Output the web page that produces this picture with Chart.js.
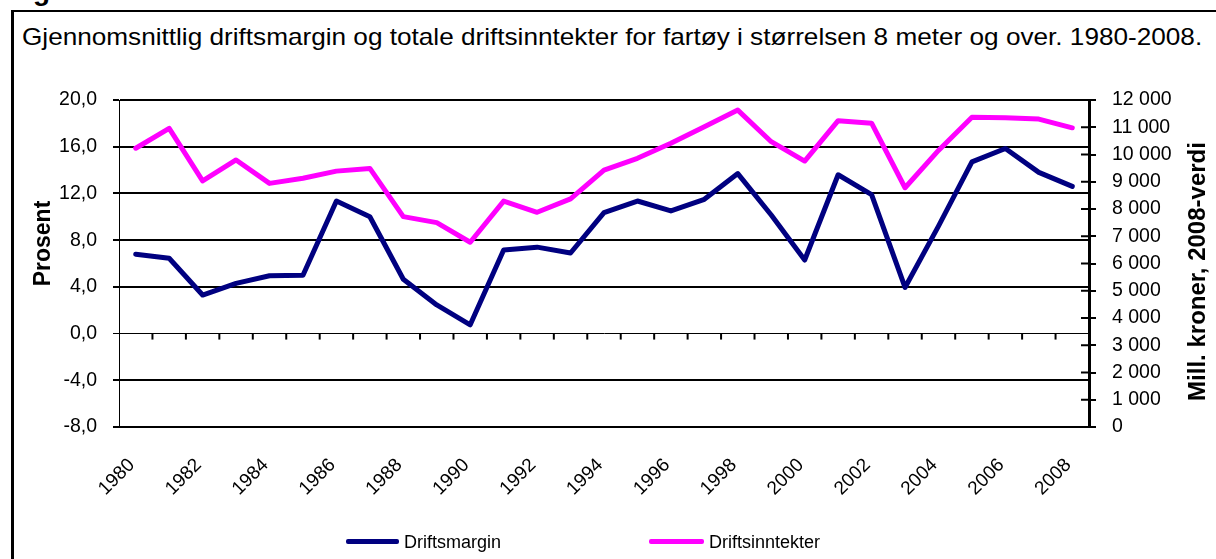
<!DOCTYPE html>
<html>
<head>
<meta charset="utf-8">
<title>Driftsmargin og driftsinntekter 1980-2008</title>
<script src="https://cdn.jsdelivr.net/npm/chart.js@4.4.1/dist/chart.umd.min.js"></script>
<style>
  html, body { margin: 0; padding: 0; background: #fff; }
  body { width: 1216px; height: 559px; overflow: hidden; position: relative;
         font-family: "Liberation Sans", Arial, sans-serif; color: #000; }
  #fig   { position: absolute; left: 8px; top: -23px; font: bold 28px/28px "Liberation Sans", Arial, sans-serif; }
  #frame { position: absolute; left: 11px; top: 10px; width: 1220px; height: 560px;
           border-left: 3px solid #000; border-top: 2px solid #000; }
  #title { position: absolute; left: 22px; top: 25px; font-size: 24px; line-height: 24px;
           white-space: nowrap; transform-origin: 0 0; }
  #chart { position: absolute; left: 0; top: 0; }
  .lg-line { position: absolute; height: 5px; border-radius: 2px; }
  .lg-text { position: absolute; font-size: 18px; line-height: 18px; white-space: nowrap; }
</style>
</head>
<body>
<div id="fig">Fig.</div>
<div id="frame"></div>
<div id="title">Gjennomsnittlig driftsmargin og totale driftsinntekter for fartøy i størrelsen 8 meter og over. 1980-2008.</div>
<canvas id="chart" width="1216" height="559"></canvas>
<div id="legend"></div>

<script>
// ── Data ──────────────────────────────────────────────────────────────────────
const years = ["1980","1981","1982","1983","1984","1985","1986","1987","1988","1989",
               "1990","1991","1992","1993","1994","1995","1996","1997","1998","1999",
               "2000","2001","2002","2003","2004","2005","2006","2007","2008"];

// Prosent (left axis)
const driftsmargin = [6.8, 6.45, 3.3, 4.3, 4.95, 5.0, 11.35, 10.0, 4.65, 2.45,
                      0.75, 7.15, 7.4, 6.9, 10.35, 11.35, 10.5, 11.5, 13.7, 10.15,
                      6.3, 13.6, 11.9, 3.95, 9.2, 14.7, 15.85, 13.8, 12.6];

// Mill. kroner, 2008-verdi (right axis)
const driftsinntekter = [10230, 10960, 9030, 9800, 8940, 9130, 9390, 9490, 7720, 7500,
                         6780, 8290, 7880, 8370, 9430, 9860, 10410, 11020, 11630, 10470,
                         9760, 11240, 11150, 8780, 10150, 11370, 11350, 11300, 10980];

const seriesNames  = ["Driftsmargin", "Driftsinntekter"];
const seriesColors = ["#000080", "#FF00FF"];

const FONT = "'Liberation Sans', Arial, sans-serif";
Chart.defaults.font.family = FONT;
Chart.defaults.color = "#000";

// ── Title: stretch to the reference width ────────────────────────────────────
(function fitTitle() {
  const el = document.getElementById("title");
  el.style.transform = `scaleX(${1180 / el.scrollWidth})`;
})();

// ── Helpers ───────────────────────────────────────────────────────────────────
const fmtPct = v => v.toFixed(1).replace(".", ",");
const fmtKr  = v => String(v).replace(/\B(?=(\d{3})+(?!\d))/g, " ");

// zero-line category ticks, inner ticks on right axis, axis titles
const extras = {
  id: "extras",
  beforeDatasetsDraw(chart) {
    const { ctx, chartArea: a, scales: { x, y, y1 } } = chart;
    ctx.save();
    ctx.strokeStyle = "#000";
    ctx.lineWidth = 2;
    const y0 = y.getPixelForValue(0);
    for (let i = 1; i < years.length; i++) {
      const px = (x.getPixelForValue(i - 1) + x.getPixelForValue(i)) / 2;
      ctx.beginPath(); ctx.moveTo(px, y0); ctx.lineTo(px, y0 + 6); ctx.stroke();
    }
    y1.ticks.forEach(t => {
      const py = y1.getPixelForValue(t.value);
      ctx.beginPath(); ctx.moveTo(a.right - 8, py); ctx.lineTo(a.right, py); ctx.stroke();
    });
    ctx.restore();
  },
  afterDraw(chart) {
    const { ctx, chartArea: a } = chart;
    const mid = (a.top + a.bottom) / 2;
    ctx.save();
    ctx.fillStyle = "#000";
    ctx.textAlign = "center";
    ctx.textBaseline = "alphabetic";

    ctx.font = `bold 23px ${FONT}`;
    ctx.translate(50, mid - 20);
    ctx.rotate(-Math.PI / 2);
    ctx.fillText("Prosent", 0, 0);
    ctx.setTransform(1, 0, 0, 1, 0, 0);

    ctx.font = `bold 24px ${FONT}`;
    ctx.translate(1205, mid + 8);
    ctx.rotate(-Math.PI / 2);
    ctx.fillText("Mill. kroner, 2008-verdi", 0, 0);
    ctx.restore();
  }
};

// ── Chart ─────────────────────────────────────────────────────────────────────
const lineStyle = { pointRadius: 0, borderWidth: 5, tension: 0,
                    borderJoinStyle: "round", borderCapStyle: "round", fill: false };

new Chart(document.getElementById("chart"), {
  type: "line",
  data: {
    labels: years,
    datasets: [
      { label: seriesNames[0], data: driftsmargin,    yAxisID: "y",  borderColor: seriesColors[0], ...lineStyle },
      { label: seriesNames[1], data: driftsinntekter, yAxisID: "y1", borderColor: seriesColors[1], ...lineStyle },
    ],
  },
  options: {
    responsive: false, animation: false, devicePixelRatio: 1,
    layout: { padding: { top: 100 } },
    plugins: { legend: { display: false }, tooltip: { enabled: false } },
    scales: {
      x: {
        type: "category", offset: true,
        grid: { display: false, drawTicks: false },
        border: { display: false },
        ticks: {
          autoSkip: false, minRotation: 45, maxRotation: 45, padding: 27, labelOffset: -4,
          font: { size: 19 },
          callback: (v, i) => (i % 2 === 0 ? years[i] : ""),
        },
        afterFit: s => { s.height = 132; },
      },
      y: {
        position: "left", min: -8, max: 20,
        ticks: { stepSize: 4, padding: 16, font: { size: 19.5 }, callback: v => fmtPct(v) },
        grid: { color: "#000", tickLength: 6,
                lineWidth: c => (c.tick && c.tick.value === 0 ? 1 : 2) },
        border: { display: true, color: "#000", width: 1 },
        afterFit: s => { s.width = 119; },
      },
      y1: {
        position: "right", min: 0, max: 12000,
        ticks: { stepSize: 1000, padding: 16, font: { size: 19.5 }, callback: v => fmtKr(v) },
        grid: { drawOnChartArea: false, color: "#000", lineWidth: 2, tickLength: 7 },
        border: { display: true, color: "#000", width: 3 },
        afterFit: s => { s.width = 127; },
      },
    },
  },
  plugins: [extras],
});

// ── Legend ────────────────────────────────────────────────────────────────────
const legendPos = [{ line: 346, width: 53, text: 404 }, { line: 649, width: 55, text: 709 }];
document.getElementById("legend").innerHTML = seriesNames.map((name, i) =>
  `<div class="lg-line" style="left:${legendPos[i].line}px;top:539px;width:${legendPos[i].width}px;background:${seriesColors[i]}"></div>` +
  `<div class="lg-text" style="left:${legendPos[i].text}px;top:533px">${name}</div>`
).join("");
</script>
</body>
</html>
